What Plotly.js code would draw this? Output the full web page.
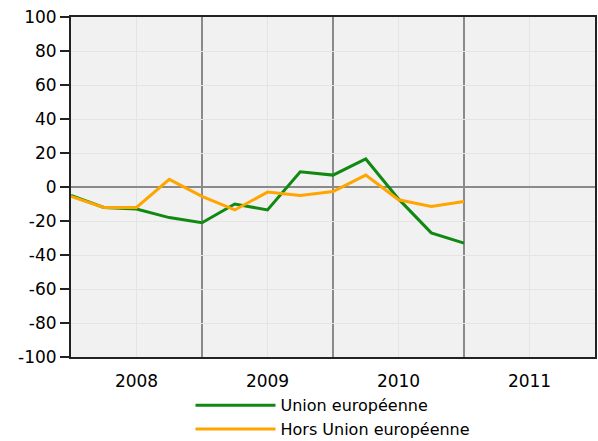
<!DOCTYPE html>
<html>
<head>
<meta charset="utf-8">
<script src="https://cdn.plot.ly/plotly-3.0.1.min.js"></script>
<style>html,body{margin:0;padding:0;background:#fff;}#chart{width:598px;height:441px;}</style>
</head>
<body>
<div id="chart"></div>
<script>
// Quarterly positions (start of each quarter), 2008 Q1 .. 2011 Q1
var quarters = [2008.0, 2008.25, 2008.5, 2008.75, 2009.0, 2009.25, 2009.5, 2009.75, 2010.0, 2010.25, 2010.5, 2010.75, 2011.0];
var unionEuropeenne = [-5, -12, -13, -18, -21, -10, -13.5, 9, 7, 16.5, -7, -27, -33];
var horsUnionEuropeenne = [-5.5, -12, -12, 4.5, -5.5, -13.5, -3, -5, -2.7, 7, -7.5, -11.5, -8.5];
var yearLabels = ['2008', '2009', '2010', '2011'];
var yearCenters = [2008.5, 2009.5, 2010.5, 2011.5];
var yearBounds = [2009, 2010, 2011];
var yTicks = [-100, -80, -60, -40, -20, 0, 20, 40, 60, 80, 100];
var yTickLabels = ['-100', '-80', '-60', '-40', '-20', '0', '20', '40', '60', '80', '100'];

var font = 'DejaVu Sans, sans-serif';

var traces = [
  {x: quarters, y: unionEuropeenne, type: 'scatter', mode: 'lines', name: 'Union européenne',
   line: {color: '#118811', width: 3}},
  {x: quarters, y: horsUnionEuropeenne, type: 'scatter', mode: 'lines', name: 'Hors Union européenne',
   line: {color: '#ffa500', width: 3}}
];

var shapes = yearBounds.map(function (b) {
  return {type: 'line', xref: 'x', yref: 'paper', x0: b, x1: b, y0: 0, y1: 1,
          line: {color: '#8a8a8a', width: 2}, layer: 'below'};
});

var layout = {
  width: 598, height: 441,
  margin: {l: 71, r: 3, t: 17, b: 84, autoexpand: false},
  paper_bgcolor: '#ffffff',
  plot_bgcolor: '#f1f1f1',
  font: {family: font, size: 16, color: '#000'},
  showlegend: true,
  legend: {orientation: 'v', x: 0.5, xanchor: 'center', y: -0.092, yanchor: 'top',
           font: {family: font, size: 16, color: '#000'}, itemwidth: 80,
           tracegroupgap: 0, bgcolor: 'rgba(0,0,0,0)'},
  xaxis: {range: [2008, 2012], tickvals: yearCenters, ticktext: yearLabels,
          showgrid: true, gridcolor: '#e4e4e4', gridwidth: 1,
          showline: true, linecolor: '#222', linewidth: 2, mirror: true,
          ticks: 'outside', ticklen: 8, tickcolor: 'rgba(0,0,0,0)', zeroline: false, fixedrange: true,
          tickfont: {family: font, size: 17}},
  yaxis: {range: [-100, 100], tickvals: yTicks, ticktext: yTickLabels,
          showgrid: true, gridcolor: '#e4e4e4', gridwidth: 1,
          showline: true, linecolor: '#222', linewidth: 2, mirror: true,
          ticks: 'outside', ticklen: 9, tickwidth: 2, tickcolor: '#222',
          zeroline: true, zerolinecolor: '#8a8a8a', zerolinewidth: 2,
          tickfont: {family: font, size: 17}, fixedrange: true},
  shapes: shapes
};

Plotly.newPlot('chart', traces, layout, {displayModeBar: false, staticPlot: true});
</script>
</body>
</html>
